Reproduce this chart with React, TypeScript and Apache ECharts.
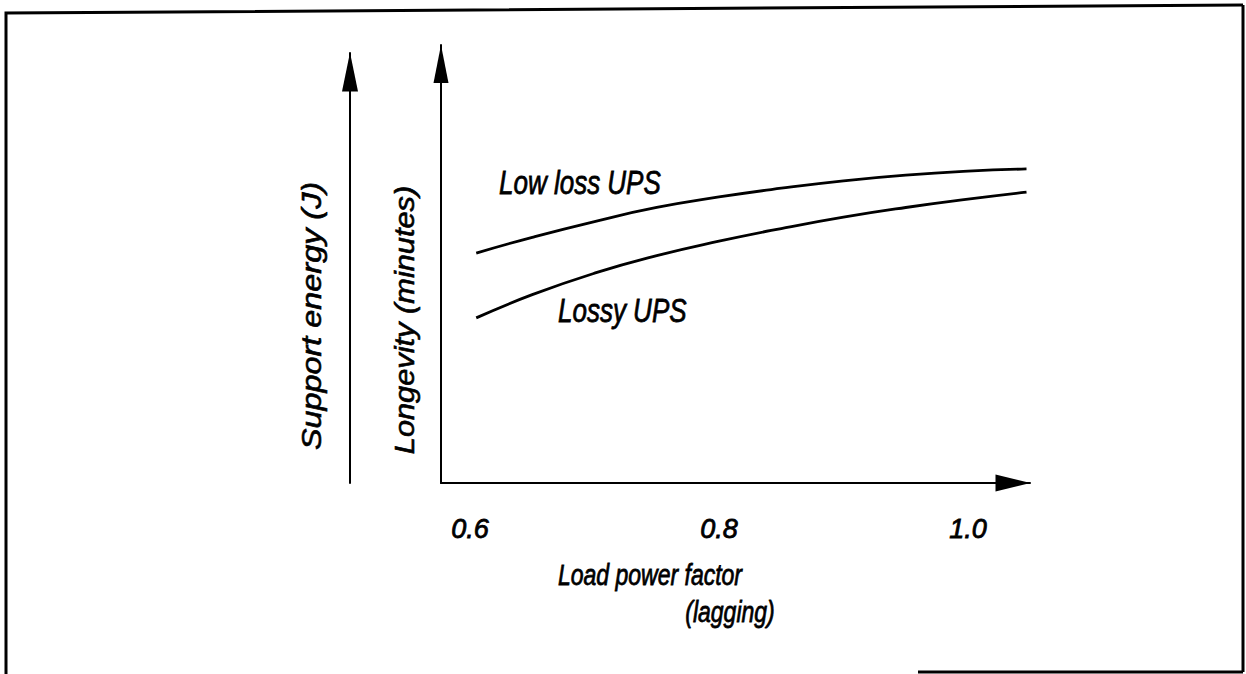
import React, { useEffect, useRef } from "react";
import * as echarts from "echarts";

// Load power factor (lagging) sample positions
const powerFactor = [0.605, 0.65, 0.7, 0.75, 0.8, 0.85, 0.9, 0.95, 1.0, 1.047];
// Relative longevity (arbitrary units, 0-100 along the axis)
const lowLossUps = [52.5, 56.1, 59.7, 62.9, 65.3, 67.3, 69.0, 70.3, 71.2, 71.7];
const lossyUps = [37.7, 43.0, 47.9, 51.9, 55.2, 58.1, 60.7, 62.9, 64.8, 66.4];
const tickValues = [0.6, 0.8, 1.0];

const FONT = "'Liberation Sans', Arial, Helvetica, sans-serif";

export default function App() {
  const ref = useRef<HTMLDivElement>(null);
  useEffect(() => {
    if (!ref.current) return;
    const chart = echarts.init(ref.current, undefined, { renderer: "svg" });
    const line = (d: number[]) => powerFactor.map((x, i) => [x, d[i]]);
    const label = (
      text: string,
      x: number,
      y: number,
      size: number,
      align: string,
      extra: any = {}
    ) => ({
      type: "text",
      x,
      y,
      ...extra,
      style: {
        text,
        fill: "#000",
        stroke: "#000",
        lineWidth: 0.6,
        fontSize: size,
        fontStyle: "italic",
        fontFamily: FONT,
        textAlign: align,
        textVerticalAlign: "middle",
      },
    });
    chart.setOption({
      animation: false,
      backgroundColor: "#fff",
      grid: [
        { left: 441, right: 216, top: 45, bottom: 191 },
        { left: 350, width: 1, top: 53, bottom: 191 },
      ],
      xAxis: [
        {
          type: "value",
          gridIndex: 0,
          min: 0.5767,
          max: 1.0498,
          splitLine: { show: false },
          axisTick: { show: false },
          axisLine: {
            show: true,
            symbol: ["none", "triangle"],
            symbolSize: [17, 35],
            symbolOffset: [0, -17],
            lineStyle: { color: "#000", width: 2 },
          },
          axisLabel: {
            customValues: tickValues,
            formatter: (v: number) => v.toFixed(1),
            margin: 32,
            color: "#000",
            fontSize: 27,
            fontStyle: "italic",
            fontFamily: FONT,
            textBorderColor: "#000",
            textBorderWidth: 0.8,
          },
        },
        { type: "value", gridIndex: 1, show: false, min: 0, max: 1 },
      ],
      yAxis: [
        {
          type: "value",
          gridIndex: 0,
          min: 0,
          max: 100,
          splitLine: { show: false },
          axisTick: { show: false },
          axisLabel: { show: false },
          axisLine: {
            show: true,
            symbol: ["none", "triangle"],
            symbolSize: [15, 38],
            symbolOffset: [0, -19],
            lineStyle: { color: "#000", width: 2 },
          },
        },
        {
          type: "value",
          gridIndex: 1,
          min: 0,
          max: 100,
          position: "left",
          splitLine: { show: false },
          axisTick: { show: false },
          axisLabel: { show: false },
          axisLine: {
            show: true,
            onZero: false,
            symbol: ["none", "triangle"],
            symbolSize: [16, 39],
            symbolOffset: [0, -19],
            lineStyle: { color: "#000", width: 2 },
          },
        },
      ],
      series: [
        {
          name: "Low loss UPS",
          type: "line",
          xAxisIndex: 0,
          yAxisIndex: 0,
          data: line(lowLossUps),
          smooth: true,
          showSymbol: false,
          lineStyle: { color: "#000", width: 2.8 },
        },
        {
          name: "Lossy UPS",
          type: "line",
          xAxisIndex: 0,
          yAxisIndex: 0,
          data: line(lossyUps),
          smooth: true,
          showSymbol: false,
          lineStyle: { color: "#000", width: 2.8 },
        },
      ],
      graphic: [
        {
          type: "polyline",
          shape: { points: [[1243, 5], [6, 13], [6, 674]] },
          style: { stroke: "#000", lineWidth: 3, fill: "none" },
        },
        {
          type: "line",
          shape: { x1: 1243, y1: 5, x2: 1243, y2: 672 },
          style: { stroke: "#000", lineWidth: 3 },
        },
        {
          type: "line",
          shape: { x1: 918, y1: 672, x2: 1243, y2: 672 },
          style: { stroke: "#000", lineWidth: 3 },
        },
        label("Low loss UPS", 499, 182, 26, "left", { scaleY: 1.25 }),
        label("Lossy UPS", 558, 310, 26, "left", { scaleY: 1.25 }),
        label("Load power factor", 650, 575, 23, "center", { scaleY: 1.25 }),
        label("(lagging)", 730, 612, 23, "center", { scaleY: 1.25 }),
        label("Support energy (J)", 311, 316, 27, "center", {
          rotation: Math.PI / 2,
          scaleX: 1.2,
        }),
        label("Longevity (minutes)", 405, 320, 27, "center", {
          rotation: Math.PI / 2,
          scaleX: 1.14,
        }),
      ],
    });
    return () => chart.dispose();
  }, []);
  return (
    <div
      ref={ref}
      style={{ position: "fixed", left: 0, top: 0, width: 1246, height: 674, background: "#fff" }}
    />
  );
}
